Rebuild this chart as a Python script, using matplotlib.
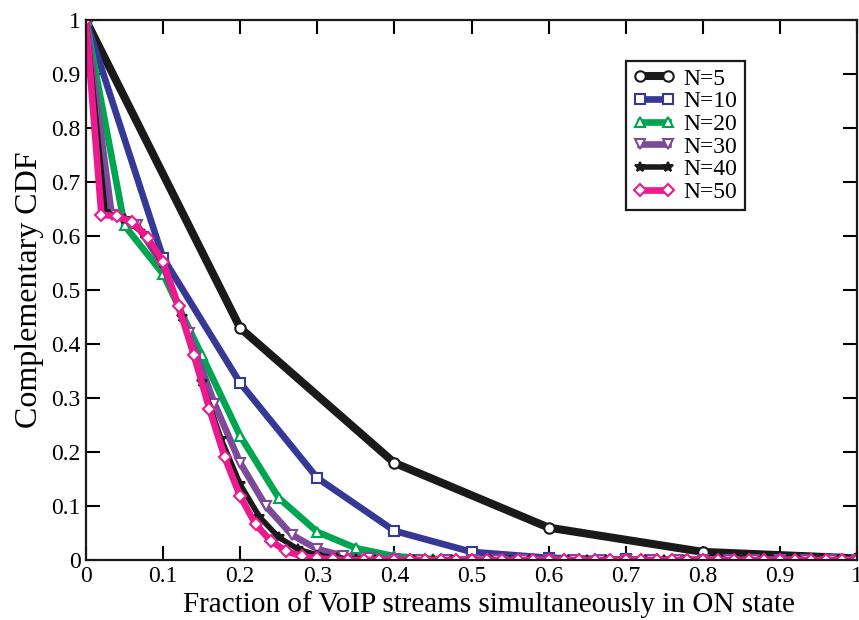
import numpy as np
import matplotlib
matplotlib.use('Agg')
import matplotlib.pyplot as plt

plt.rcParams['font.family'] = ['Liberation Serif', 'DejaVu Serif']

# Complementary CDF values, one list per N (x = k/N)
ccdf_n5 = [1.0, 0.43, 0.18, 0.06, 0.015, 0.003]
ccdf_n10 = [1.0, 0.56, 0.328, 0.152, 0.054, 0.015, 0.004, 0.001, 0.0002, 0.0, 0.0]
ccdf_n20 = [1.0, 0.62, 0.53, 0.38, 0.23, 0.115, 0.052, 0.022, 0.007, 0.002, 0.0005,
            0.0, 0.0, 0.0, 0.0, 0.0, 0.0, 0.0, 0.0, 0.0, 0.0]
ccdf_n30 = [1.0, 0.64, 0.62, 0.545, 0.42, 0.29, 0.18, 0.10, 0.047, 0.02, 0.008,
            0.003, 0.001, 0.0, 0.0, 0.0, 0.0, 0.0, 0.0, 0.0, 0.0,
            0.0, 0.0, 0.0, 0.0, 0.0, 0.0, 0.0, 0.0, 0.0, 0.0]
ccdf_n40 = [1.0, 0.645, 0.632, 0.605, 0.55, 0.45, 0.33, 0.225, 0.14, 0.08, 0.042,
            0.02, 0.009, 0.004, 0.0015, 0.0, 0.0, 0.0, 0.0, 0.0, 0.0,
            0.0, 0.0, 0.0, 0.0, 0.0, 0.0, 0.0, 0.0, 0.0, 0.0,
            0.0, 0.0, 0.0, 0.0, 0.0, 0.0, 0.0, 0.0, 0.0, 0.0]
ccdf_n50 = [1.0, 0.64, 0.637, 0.627, 0.597, 0.553, 0.47, 0.38, 0.28, 0.19, 0.118,
            0.066, 0.035, 0.016, 0.007, 0.003, 0.001, 0.0, 0.0, 0.0, 0.0,
            0.0, 0.0, 0.0, 0.0, 0.0, 0.0, 0.0, 0.0, 0.0, 0.0,
            0.0, 0.0, 0.0, 0.0, 0.0, 0.0, 0.0, 0.0, 0.0, 0.0,
            0.0, 0.0, 0.0, 0.0, 0.0, 0.0, 0.0, 0.0, 0.0, 0.0]

series = [
    (5, ccdf_n5, '#1a1a1a', 'o', 'white', 5.8),
    (10, ccdf_n10, '#363895', 's', 'white', 4.8),
    (20, ccdf_n20, '#00a550', '^', 'white', 4.8),
    (30, ccdf_n30, '#7d4a9a', 'v', 'white', 4.8),
    (40, ccdf_n40, '#1a1a1a', '*', '#1a1a1a', 4.0),
    (50, ccdf_n50, '#ec1a8c', 'D', 'white', 4.8),
]

fig = plt.figure(figsize=(8.59, 6.2), dpi=100)
ax = fig.add_axes([0.1001, 0.0968, 0.8976, 0.8702])

for n, vals, color, mk, face, lw in series:
    x = np.arange(n + 1) / n
    ax.plot(x, vals, color=color, lw=lw, marker=mk, markersize=7.5 if mk != 'D' else 6.5,
            markerfacecolor=face, markeredgecolor=color, markeredgewidth=1.5,
            label='N=%d' % n)

ax.set_xlim(0, 1)
ax.set_ylim(0, 1)
ax.set_xticks(np.arange(0, 1.01, 0.1))
ax.set_yticks(np.arange(0, 1.01, 0.1))
ax.set_xticklabels(['0', '0.1', '0.2', '0.3', '0.4', '0.5', '0.6', '0.7', '0.8', '0.9', '1'])
ax.set_yticklabels(['0', '0.1', '0.2', '0.3', '0.4', '0.5', '0.6', '0.7', '0.8', '0.9', '1'])
ax.tick_params(direction='in', length=10, width=1.5, top=True, right=True,
               labelsize=17, pad=4)
for sp in ax.spines.values():
    sp.set_linewidth(1.6)
    sp.set_color('#1a1a1a')

ax.set_xlabel('Fraction of VoIP streams simultaneously in ON state', fontsize=21, labelpad=5)
ax.xaxis.set_label_coords(0.523, -0.058)
ax.set_ylabel('Complementary CDF', fontsize=23, labelpad=5)

leg = ax.legend(loc='upper left', bbox_to_anchor=(0.70, 0.925), borderaxespad=0,
                fontsize=17, numpoints=2, handlelength=1.8, handletextpad=0.35,
                labelspacing=0.05, borderpad=0.3, fancybox=False, framealpha=1,
                edgecolor='#1a1a1a')
leg.get_frame().set_linewidth(1.6)

fig.savefig('out.png', dpi=100)
